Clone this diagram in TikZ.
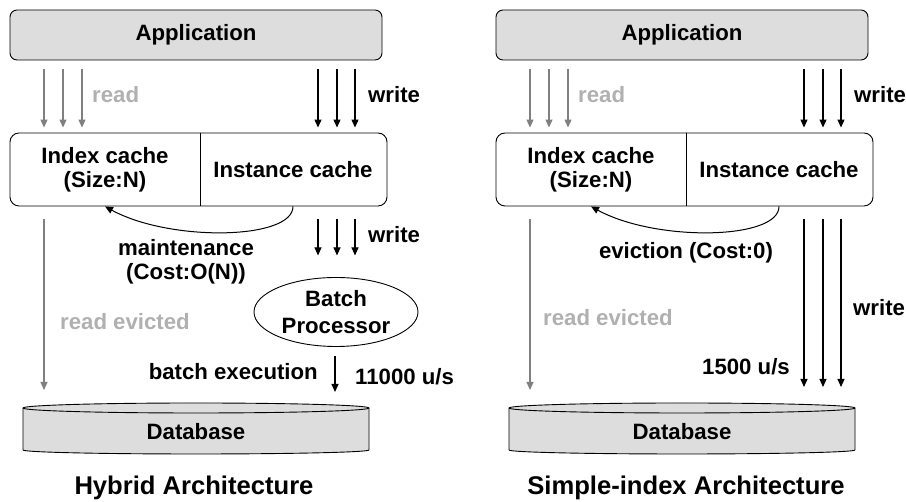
\documentclass[tikz,border=0pt]{standalone}
\usepackage{fontspec}
\setmainfont{Liberation Sans}
\usetikzlibrary{arrows.meta,shapes.geometric,calc}
\definecolor{boxgray}{HTML}{DDDDDD}
\definecolor{arrgray}{HTML}{808080}
\definecolor{txtgray}{HTML}{B0B0B0}
\tikzset{
  lbl/.style={font=\fontsize{22.2}{24}\selectfont\bfseries, inner sep=0pt, align=center},
  ttl/.style={font=\fontsize{25.6}{28}\selectfont\bfseries, inner sep=0pt},
  appbox/.style={draw, fill=boxgray, rounded corners=7pt, line width=0.9pt, minimum width=372pt, minimum height=50pt, lbl},
  cachebox/.style={draw, rounded corners=9pt, line width=0.9pt, minimum width=377pt, minimum height=73pt},
  tip/.style={-{Triangle[length=8pt,width=7pt]}},
  rdarrow/.style={tip, draw=arrgray, line width=1.1pt},
  wrarrow/.style={tip, draw=black, line width=1.1pt},
  bproc/.style={draw, ellipse, line width=0.9pt, minimum width=164pt, minimum height=69pt, lbl, font=\fontsize{22.2}{27}\selectfont\bfseries},
  dbline/.style={draw=black, line width=0.9pt, fill=boxgray},
}
\begin{document}
\begin{tikzpicture}[x=1pt,y=1pt]
\useasboundingbox (0,0) rectangle (906,502);
% ================= LEFT: Hybrid =================
\begin{scope}
\node[appbox] (appL) at (196,467) {Application};
\node[cachebox] (cacheL) at (198.5,332.5) {};
\draw[line width=0.8pt] (cacheL.north -| 200,0) -- (cacheL.south -| 200,0);
\node[lbl] (idxL) at (105,332) {Index cache\\(Size:N)};
\node[lbl] (instL) at (293,332) {Instance cache};
\foreach \x in {44,63,82}
  \draw[rdarrow, shorten <=9pt, shorten >=5pt] (appL.south -| \x,0) -- (cacheL.north -| \x,0);
\node[lbl, anchor=west, text=txtgray] (readL) at (92,407) {read};
\foreach \x in {318,337,355}
  \draw[wrarrow, shorten <=9pt, shorten >=5pt] (appL.south -| \x,0) -- (cacheL.north -| \x,0);
\node[lbl, anchor=west] (writeL) at (368,407) {write};
\draw[tip, line width=1pt] (cacheL.south -| instL) .. controls (293,262) and (170,260) .. (cacheL.south -| 105,0);
\node[lbl] (maintL) at (186,240) {maintenance\\(Cost:O(N))};
\node[bproc] (batchL) at (336,190) {Batch\\Processor};
\foreach \x in {318,337,355}
  \draw[wrarrow, shorten <=13pt] (cacheL.south -| \x,0) -- ++(0,-49);
\node[lbl, anchor=west] (write2L) at (368,267) {write};
\draw[rdarrow, shorten <=13pt] (cacheL.south -| 44,0) -- (44,112);
\node[lbl, anchor=west, text=txtgray] (revL) at (60,180) {read evicted};
% database
\draw[dbline] (23,94) -- (23,52) arc[start angle=180,end angle=360,x radius=173,y radius=4] -- (369,94) arc[start angle=0,end angle=180,x radius=173,y radius=5] -- cycle;
\draw[line width=0.9pt] (23,94) arc[start angle=180,end angle=360,x radius=173,y radius=5];
\node[lbl] (dbL) at (196,70) {Database};
\draw[wrarrow, shorten <=9pt] (batchL.south -| 335,0) -- (335,110);
\node[lbl, anchor=east] (bexL) at (318,130) {batch execution};
\node[lbl, anchor=west] (rateL) at (355,125) {11000 u/s};
\node[ttl] (ttlL) at (194,14) {Hybrid Architecture};
\end{scope}
% ================= RIGHT: Simple-index =================
\begin{scope}
\node[appbox] (appR) at (682,467) {Application};
\node[cachebox] (cacheR) at (684.5,332.5) {};
\draw[line width=0.8pt] (cacheR.north -| 686,0) -- (cacheR.south -| 686,0);
\node[lbl] (idxR) at (591,332) {Index cache\\(Size:N)};
\node[lbl] (instR) at (779,332) {Instance cache};
\foreach \x in {530,549,568}
  \draw[rdarrow, shorten <=9pt, shorten >=5pt] (appR.south -| \x,0) -- (cacheR.north -| \x,0);
\node[lbl, anchor=west, text=txtgray] (readR) at (578,407) {read};
\foreach \x in {804,823,841}
  \draw[wrarrow, shorten <=9pt, shorten >=5pt] (appR.south -| \x,0) -- (cacheR.north -| \x,0);
\node[lbl, anchor=west] (writeR) at (854,407) {write};
\draw[tip, line width=1pt] (cacheR.south -| instR) .. controls (779,262) and (656,260) .. (cacheR.south -| 591,0);
\node[lbl] (evR) at (686,249) {eviction (Cost:0)};
\foreach \x in {804,823,841}
  \draw[wrarrow, shorten <=13pt] (cacheR.south -| \x,0) -- (\x,115);
\node[lbl, anchor=west] (write2R) at (853,194) {write};
\node[lbl, anchor=east] (rateR) at (790,135) {1500 u/s};
\draw[rdarrow, shorten <=13pt] (cacheR.south -| 530,0) -- (530,112);
\node[lbl, anchor=west, text=txtgray] (revR) at (543,184) {read evicted};
\draw[dbline] (509,94) -- (509,52) arc[start angle=180,end angle=360,x radius=173,y radius=4] -- (855,94) arc[start angle=0,end angle=180,x radius=173,y radius=5] -- cycle;
\draw[line width=0.9pt] (509,94) arc[start angle=180,end angle=360,x radius=173,y radius=5];
\node[lbl] (dbR) at (682,70) {Database};
\node[ttl] (ttlR) at (686,14) {Simple-index Architecture};
\end{scope}
\end{tikzpicture}
\end{document}
